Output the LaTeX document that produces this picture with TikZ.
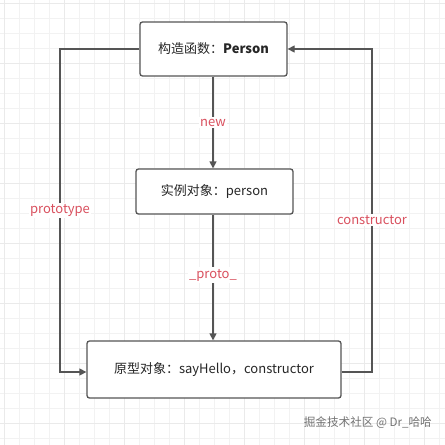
\documentclass[tikz,border=0pt]{standalone}
\usepackage{fontspec}
\setmainfont{Noto Sans CJK SC}
\usetikzlibrary{arrows.meta}
\definecolor{lineg}{HTML}{555555}
\definecolor{lblred}{HTML}{D9505E}
\definecolor{gridc}{HTML}{F2F2F2}
\definecolor{gridd}{HTML}{EAEAEA}
\tikzset{
  box/.style={draw=lineg, line width=1.3pt, rounded corners=2.5pt, fill=white, inner sep=0pt, font=\fontsize{13}{15}\selectfont, text=black!85},
  conn/.style={draw=lineg, line width=1.3pt, -{Triangle[length=7pt,width=7pt]}},
  lbl/.style={fill=white, text=lblred, font=\fontsize{13}{15}\selectfont, inner sep=1.5pt},
}
\begin{document}
\begin{tikzpicture}[x=1pt,y=-1pt]
\useasboundingbox (0,0) rectangle (445,445);
\fill[white] (0,0) rectangle (445,445);
% grid
\foreach \i in {0,...,29} {
  \draw[gridc, line width=0.8pt] ({4+15*\i},0) -- ({4+15*\i},445);
  \draw[gridc, line width=0.8pt] (0,{3+15*\i}) -- (445,{3+15*\i});
}
\foreach \i in {0,...,7} {
  \draw[gridd, line width=0.8pt] ({4+60*\i},0) -- ({4+60*\i},445);
  \draw[gridd, line width=0.8pt] (0,{3+60*\i}) -- (445,{3+60*\i});
}
% boxes
\node[box, minimum width=147pt, minimum height=54pt] (ctor) at (213.5,49) {构造函数：\textbf{Person}};
\node[box, minimum width=157pt, minimum height=45pt] (inst) at (214.5,191.5) {实例对象：person};
\node[box, minimum width=254pt, minimum height=57pt] (proto) at (214,369.5) {原型对象：sayHello，constructor};
% corner coordinates
\coordinate (lt) at (60,49);
\coordinate (lb) at (60,372);
\coordinate (rt) at (372,49);
\coordinate (rb) at (372,372);
% connectors
\draw[conn] (ctor.south -| 213,0) -- node[lbl, pos=0.5] {new} (inst.north -| 213,0);
\draw[conn] (inst.south -| 213,0) -- node[lbl, pos=0.48] {\_proto\_} (proto.north -| 213,0);
\draw[conn] (ctor.west) -- (lt) -- node[lbl, pos=0.5] {prototype} (lb) -- (proto.west |- lb);
\draw[conn] (proto.east |- rb) -- (rb) -- node[lbl, pos=0.47] {constructor} (rt) -- (ctor.east);
% watermark
\node[text=black!55, font=\fontsize{11.6}{13}\selectfont, anchor=east, inner sep=0pt] (wm) at (432,423) {掘金技术社区 @ Dr\_哈哈};
\end{tikzpicture}
\end{document}
